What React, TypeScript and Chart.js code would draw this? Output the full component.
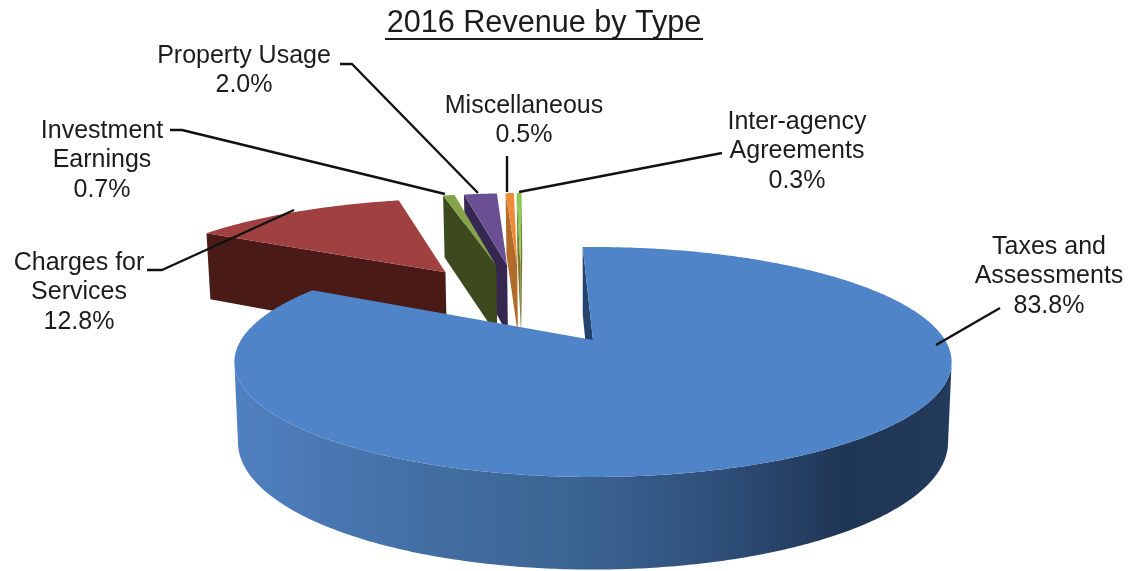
import { useEffect, useRef } from "react";
import { Chart, registerables } from "chart.js";

Chart.register(...registerables);

const chartTitle = "2016 Revenue by Type";
const categories = [
  "Taxes and Assessments",
  "Charges for Services",
  "Investment Earnings",
  "Property Usage",
  "Miscellaneous",
  "Inter-agency Agreements",
];
const shares = [83.8, 12.8, 0.7, 2.0, 0.5, 0.3];
const topColors = ["#5084c8", "#a04040", "#84a34a", "#6a5092", "#ee8b3a", "#8ccb52"];
const wallColors = ["#23446e", "#4a1a17", "#3c4a1e", "#35274f", "#b26c2a", "#7a7a30"];

// Text block for each slice: wrapped lines, centre x, y of the first line.
const labelLines = [
  ["Taxes and", "Assessments"],
  ["Charges for", "Services"],
  ["Investment", "Earnings"],
  ["Property Usage"],
  ["Miscellaneous"],
  ["Inter-agency", "Agreements"],
];
const labelAnchors = [
  [1049, 247],
  [79, 263],
  [102, 131],
  [244, 56],
  [524, 106],
  [797, 122],
];
const leaderPaths = [
  [[936, 345], [1000, 308]],
  [[147, 270], [162, 270], [294, 210]],
  [[170, 130], [182, 130], [445, 194]],
  [[340, 64], [352, 64], [478, 193]],
  [[507, 156], [507, 192]],
  [[519, 192], [722, 153]],
];

// Perspective of the tilted pie: ground coordinates are in pie radii.
const CENTER_X = 593;
const CENTER_Y = 340;
const SCALE_X = 352;
const SCALE_Z = 110.8;
const FORESHORTEN = 0.191;
const EXPLODE = 0.42;
const FONT = '"Liberation Sans", Arial, sans-serif';

type Pt = [number, number];

const project = ([x, z]: Pt, lower: boolean): Pt => {
  const w = 1 + FORESHORTEN * z;
  const inset = lower ? 0.99 : 1;
  const drop = lower ? 78 / Math.pow(w, 0.81) : 0;
  return [CENTER_X + (SCALE_X * x * inset) / w, CENTER_Y - (SCALE_Z * z) / w + drop];
};

const fillPoly = (ctx: CanvasRenderingContext2D, pts: Pt[], fill: string | CanvasGradient) => {
  ctx.beginPath();
  pts.forEach(([x, y], i) => (i ? ctx.lineTo(x, y) : ctx.moveTo(x, y)));
  ctx.closePath();
  ctx.fillStyle = fill;
  ctx.fill();
};

const wallStrip = (a: Pt, b: Pt): Pt[] => [
  project(a, false),
  project(b, false),
  project(b, true),
  project(a, true),
];

const drawSlice = (ctx: CanvasRenderingContext2D, arc: any, index: number, origin: Pt) => {
  const { startAngle, endAngle } = arc;
  const mid = (startAngle + endAngle) / 2;
  const apex: Pt = [
    origin[0] + EXPLODE * Math.cos(mid),
    origin[1] - EXPLODE * Math.sin(mid),
  ];
  const camera: Pt = [0, -1 / FORESHORTEN];
  const rim = (t: number): Pt => [apex[0] + Math.cos(t), apex[1] - Math.sin(t)];
  const faces = (n: Pt, p: Pt) => n[0] * (camera[0] - p[0]) + n[1] * (camera[1] - p[1]) > 0;

  // Radial cut faces, only where they turn towards the viewer.
  const startNormal: Pt = [Math.sin(startAngle), Math.cos(startAngle)];
  const endNormal: Pt = [-Math.sin(endAngle), -Math.cos(endAngle)];
  if (faces(startNormal, apex)) fillPoly(ctx, wallStrip(apex, rim(startAngle)), wallColors[index]);
  if (faces(endNormal, apex)) fillPoly(ctx, wallStrip(apex, rim(endAngle)), wallColors[index]);

  // Curved outer wall, split into runs of viewer-facing steps.
  const steps = Math.max(2, Math.ceil((endAngle - startAngle) / 0.01));
  let upper: Pt[] = [];
  let lower: Pt[] = [];
  const flush = () => {
    if (upper.length > 1) {
      let fill: string | CanvasGradient = wallColors[index];
      if (index === 0) {
        const g = ctx.createLinearGradient(235, 0, 953, 0);
        g.addColorStop(0, "#4f80bf");
        g.addColorStop(0.1, "#4a79b5");
        g.addColorStop(0.3, "#416d9f");
        g.addColorStop(0.5, "#3a6290");
        g.addColorStop(0.68, "#2e4e78");
        g.addColorStop(0.85, "#1f3554");
        g.addColorStop(1, "#223a5c");
        fill = g;
      }
      fillPoly(ctx, [...upper, ...lower.reverse()], fill);
    }
    upper = [];
    lower = [];
  };
  for (let s = 0; s <= steps; s++) {
    const t = startAngle + ((endAngle - startAngle) * s) / steps;
    const p = rim(t);
    if (faces([Math.cos(t), -Math.sin(t)], p)) {
      upper.push(project(p, false));
      lower.push(project(p, true));
    } else {
      flush();
    }
  }
  flush();

  // Top surface.
  const top: Pt[] = [project(apex, false)];
  for (let s = 0; s <= steps; s++) {
    top.push(project(rim(startAngle + ((endAngle - startAngle) * s) / steps), false));
  }
  fillPoly(ctx, top, arc.options.backgroundColor);
};

const piePerspective = {
  id: "piePerspective",
  beforeDatasetsDraw(chart: any) {
    const ctx: CanvasRenderingContext2D = chart.ctx;
    const arcs: any[] = chart.getDatasetMeta(0).data;

    // The whole pie is exploded: the first slice sits on the projection centre.
    const lead = (arcs[0].startAngle + arcs[0].endAngle) / 2;
    const origin: Pt = [-EXPLODE * Math.cos(lead), EXPLODE * Math.sin(lead)];

    ctx.save();
    // Far slices first, so nearer ones cover them.
    arcs
      .map((arc, index) => ({ arc, index }))
      .sort((a, b) => {
        const far = (o: any) => -Math.sin((o.arc.startAngle + o.arc.endAngle) / 2);
        return far(b) - far(a);
      })
      .forEach(({ arc, index }) => drawSlice(ctx, arc, index, origin));

    // Leader lines.
    ctx.strokeStyle = "#111111";
    ctx.lineWidth = 2.4;
    ctx.lineJoin = "round";
    leaderPaths.forEach((path) => {
      ctx.beginPath();
      path.forEach(([x, y], i) => (i ? ctx.lineTo(x, y) : ctx.moveTo(x, y)));
      ctx.stroke();
    });

    // Slice labels.
    ctx.fillStyle = "#1c1c1c";
    ctx.textAlign = "center";
    ctx.textBaseline = "middle";
    ctx.font = `25px ${FONT}`;
    categories.forEach((_, i) => {
      const [x, y] = labelAnchors[i];
      const lines = [...labelLines[i], `${shares[i].toFixed(1)}%`];
      lines.forEach((line, n) => ctx.fillText(line, x, y + n * 29.5));
    });

    // Underlined title.
    ctx.font = `30.6px ${FONT}`;
    ctx.fillText(chartTitle, 544, 24);
    ctx.fillRect(385, 38, 318, 2);
    ctx.restore();
    return false;
  },
};

export default function App() {
  const ref = useRef<HTMLCanvasElement>(null);

  useEffect(() => {
    if (!ref.current) return;
    const chart = new Chart(ref.current, {
      type: "pie",
      data: {
        labels: categories,
        datasets: [{ data: shares, backgroundColor: topColors, borderWidth: 0 }],
      },
      options: {
        responsive: false,
        animation: false,
        events: [],
        rotation: -2,
        plugins: { legend: { display: false }, tooltip: { enabled: false }, title: { display: false } },
      },
      plugins: [piePerspective],
    });
    return () => chart.destroy();
  }, []);

  return (
    <canvas
      ref={ref}
      width={1133}
      height={571}
      style={{ position: "fixed", left: 0, top: 0, background: "#ffffff" }}
    />
  );
}
